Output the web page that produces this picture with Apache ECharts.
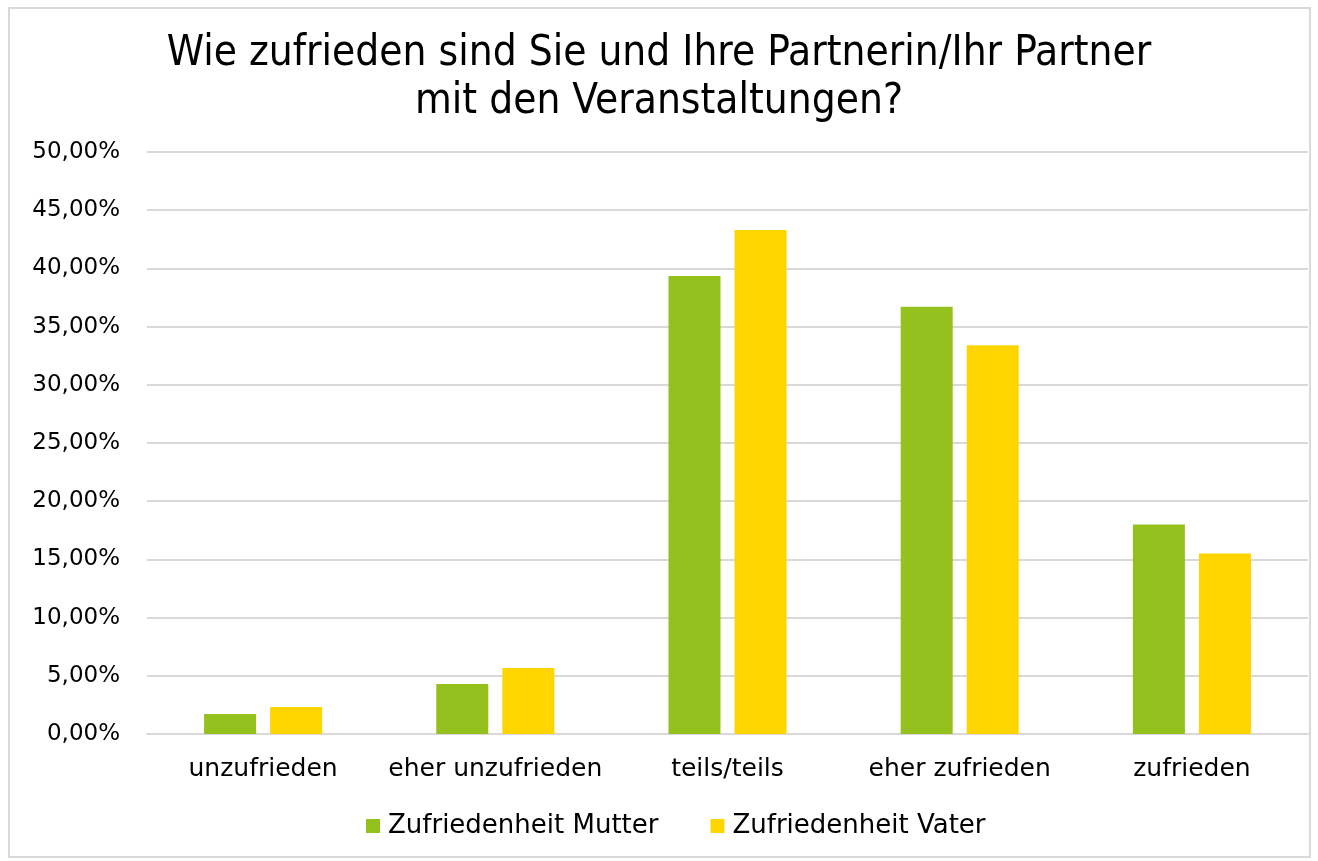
<!DOCTYPE html>
<html>
<head>
<meta charset="utf-8">
<script src="https://cdn.jsdelivr.net/npm/echarts@6/dist/echarts.min.js"></script>
<style>
  html, body { margin: 0; padding: 0; background: #fff; }
  #chart { width: 1318px; height: 861px; }
  #frame { position: absolute; left: 8px; top: 7px; width: 1303px; height: 851px; border: 2px solid #d9d9d9; box-sizing: border-box; pointer-events: none; }
</style>
</head>
<body>
<div id="chart"></div>
<div id="frame"></div>
<script>
const categories = ["unzufrieden", "eher unzufrieden", "teils/teils", "eher zufrieden", "zufrieden"];
const mutter = [1.72, 4.3, 39.35, 36.7, 18.0];
const vater = [2.32, 5.67, 43.3, 33.4, 15.5];

const chart = echarts.init(document.getElementById("chart"));
const font = "Verdana, 'DejaVu Sans', sans-serif";

chart.setOption({
  animation: false,
  title: {
    text: "Wie zufrieden sind Sie und Ihre Partnerin/Ihr Partner\nmit den Veranstaltungen?",
    left: "center",
    top: 25,
    textStyle: {
      fontFamily: "'DejaVu Sans Condensed', 'DejaVu Sans', sans-serif",
      fontSize: 42,
      fontWeight: "normal",
      color: "#000",
      lineHeight: 48
    }
  },
  legend: {
    bottom: 17,
    left: 361,
    itemWidth: 14,
    itemHeight: 14,
    itemGap: 52,
    icon: "rect",
    textStyle: { fontFamily: font, fontSize: 26, color: "#000", padding: [0, 0, 0, 3] },
    data: ["Zufriedenheit Mutter", "Zufriedenheit Vater"]
  },
  grid: { left: 147, right: 10, top: 152, bottom: 127, containLabel: false },
  xAxis: {
    type: "category",
    data: categories,
    axisTick: { show: false },
    axisLine: { lineStyle: { color: "#d9d9d9", width: 2 } },
    axisLabel: { fontFamily: font, fontSize: 25, color: "#000", margin: 23, interval: 0 }
  },
  yAxis: {
    type: "value",
    min: 0,
    max: 50,
    interval: 5,
    axisLabel: {
      fontFamily: font,
      fontSize: 23,
      color: "#000",
      margin: 27,
      formatter: v => v.toFixed(2).replace(".", ",") + "%"
    },
    splitLine: { lineStyle: { color: "#d9d9d9", width: 2 } },
    axisLine: { show: false },
    axisTick: { show: false }
  },
  series: [
    {
      name: "Zufriedenheit Mutter",
      type: "bar",
      data: mutter,
      barWidth: 52,
      barGap: "27%",
      itemStyle: { color: "#95c11f" }
    },
    {
      name: "Zufriedenheit Vater",
      type: "bar",
      data: vater,
      barWidth: 52,
      itemStyle: { color: "#ffd500" }
    }
  ]
});
</script>
</body>
</html>
